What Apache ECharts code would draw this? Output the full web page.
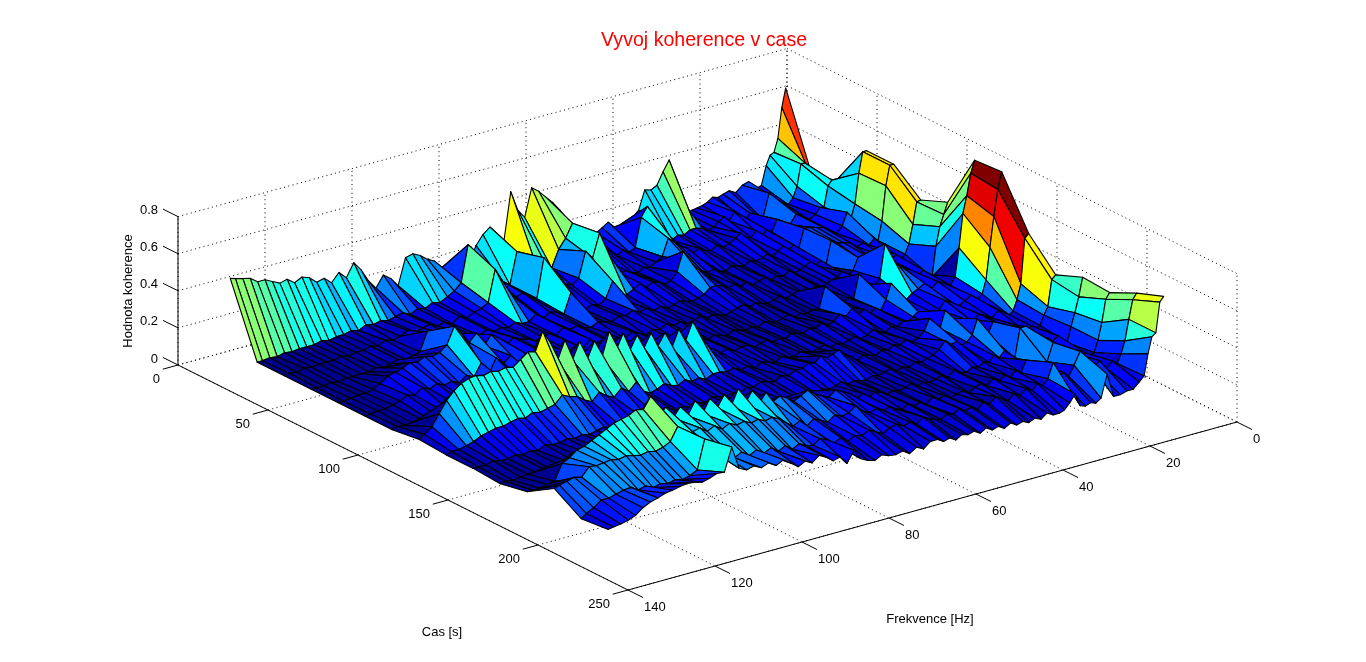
<!DOCTYPE html>
<html><head><meta charset="utf-8">
<style>html,body{margin:0;padding:0;background:#fff}#c{width:1366px;height:662px}</style>
<script src="https://cdn.jsdelivr.net/npm/echarts@6/dist/echarts.min.js"></script>
</head><body><div id="c"></div>
<script>
// axis ticks
const tTicks=[0,50,100,150,200,250];
const fTicks=[0,20,40,60,80,100,120,140];
const zTicks=[0,0.2,0.4,0.6,0.8];
const zTickLabels=['0','0.2','0.4','0.6','0.8'];
// grid of the surface
const times=[0,15,30,45,60,75,90,105,120,135,150,165,180,195,210];
const freqs=[0.3,1.2,2.1,3.0,3.9,4.8,5.9,7.3,8.8,10.3,11.8,13.3,14.7,15.9,17.1,18.3,19.5,20.7,21.9,23.1,24.3,
25.7,27.1,28.5,29.9,31.3,32.7,34.1,35.5,36.9,38.3,39.7,41.1,42.5,43.9,45.3,46.7,48.1,49.5,50.9,52.3,
53.9,55.5,57.1,58.7,60.3,61.9,63.5,65.1,66.7,68.3,69.9,71.5,73.1,74.7,76.3,77.9,79.5,81.1,82.7,84.3,
86.0,87.7,89.4,91.1,92.8,94.5,96.2,97.9,99.6,101.3,103.0,104.7,106.4,108.1,109.8,111.5,113.2,114.9,116.6,118.3,120.0,121.7,123.4,125.1,126.8,128];
// coherence per time row, from low to high frequency
const coh000=[.59,.49,.33,.26,.25,.20,.10,.09,.14,.13,.10,.12,.11,.10,.11,.09,.08,.075,.07,.06,.07,
.20,.375,.32,.257,.24,.25,.15,.12,.11,.10,.095,.13,.11,.09,.10,.10,.12,.18,.22,.27,
.32,.36,.40,.43,.28,.33,.44,.18,.12,.28,.25,.20,.12,.11,.11,.12,.13,.18,.20,.23,
.25,.24,.10,.15,.18,.12,.17,.24,.29,.22,.26,.215,.25,.24,.275,.29,.27,.30,.29,.31,.33,.33,.36,.37,.38,.39];
const coh015=[.18,.22,.27,.27,.155,.10,.07,.09,.12,.16,.03,.06,.08,.05,.09,.11,.07,.10,.08,.06,.05,
.07,.08,.08,.06,.07,.05,.08,.06,.18,.27,.22,.066,.05,.07,.05,.08,.10,.07,.09,.12,
.16,.29,.22,.17,.08,.12,.09,.13,.15,.22,.05,.08,.11,.15,.12,.20,.33,.135,.10,.08,
.06,.07,.05,.06,.04,.06,.05,.04,.05,.04,.05,.03,.04,.03,.03,.02,.03,.02,.02,.02,.015,.02,.01,.015,.01,.01];
const coh030=[.22,.24,.25,.224,.116,.12,.09,.07,.10,.12,.07,.09,.12,.06,.08,.05,.09,.06,.07,.10,.08,
.06,.05,.07,.05,.06,.08,.06,.10,.12,.15,.18,.09,.07,.05,.06,.04,.05,.07,.06,.09,
.20,.31,.185,.233,.097,.07,.09,.15,.20,.26,.05,.07,.10,.09,.12,.20,.27,.10,.08,.07,
.05,.07,.04,.06,.05,.07,.06,.05,.07,.05,.04,.05,.03,.04,.03,.03,.02,.03,.02,.02,.02,.015,.02,.01,.015,.01];
const coh045=[.47,.47,.36,.20,.13,.167,.10,.07,.09,.12,.13,.14,.145,.045,.07,.05,.08,.06,.04,.06,.05,
.04,.05,.03,.04,.05,.03,.04,.06,.05,.07,.09,.14,.20,.10,.06,.05,.07,.08,.06,.09,
.07,.05,.04,.144,.06,.036,.05,.03,.04,.144,.04,.06,.07,.05,.08,.05,.05,.067,.05,.06,
.05,.07,.05,.06,.08,.06,.10,.12,.13,.15,.05,.04,.03,.04,.03,.02,.03,.02,.02,.015,.02,.01,.015,.01,.01,.01];
const coh060=[.47,.47,.365,.18,.08,.10,.07,.09,.08,.11,.12,.13,.15,.02,.06,.04,.07,.05,.04,.03,.05,
.03,.04,.03,.05,.04,.03,.05,.04,.06,.05,.07,.08,.077,.05,.04,.03,.04,.05,.04,.03,
.05,.04,.06,.05,.07,.05,.06,.04,.05,.06,.04,.05,.07,.06,.08,.05,.07,.06,.05,.07,
.08,.10,.07,.12,.15,.10,.18,.14,.20,.25,.16,.13,.12,.13,.11,.12,.10,.09,.08,.05,.03,.02,.02,.015,.01,.01];
const coh075=[.35,.345,.23,.13,.08,.06,.09,.07,.10,.08,.11,.10,.133,.07,.05,.08,.06,.05,.04,.03,.04,
.03,.02,.04,.03,.02,.04,.03,.02,.03,.04,.03,.05,.04,.03,.02,.03,.04,.03,.05,.04,
.03,.05,.04,.06,.04,.05,.03,.05,.07,.04,.06,.05,.07,.06,.09,.05,.08,.06,.07,.10,
.07,.10,.08,.11,.07,.12,.09,.13,.05,.125,.06,.08,.05,.07,.06,.08,.06,.08,.05,.06,.04,.03,.02,.02,.015,.01];
const coh090=[.41,.35,.29,.19,.03,.05,.08,.06,.10,.12,.15,.20,.28,.10,.07,.09,.09,.155,.03,.04,.03,
.02,.03,.14,.027,.03,.02,.03,.02,.04,.03,.02,.03,.04,.02,.03,.02,.03,.04,.02,.03,
.04,.03,.05,.04,.03,.05,.04,.06,.03,.05,.04,.06,.03,.05,.04,.06,.05,.07,.04,.06,
.05,.07,.04,.06,.05,.07,.04,.06,.05,.08,.04,.05,.04,.05,.03,.04,.05,.03,.04,.03,.02,.03,.02,.015,.02,.01];
const coh105=[.71,.645,.53,.44,.26,.11,.07,.09,.11,.08,.12,.10,.086,.06,.08,.05,.17,.09,.04,.06,.04,
.07,.05,.094,.06,.08,.05,.04,.06,.04,.05,.03,.04,.05,.03,.04,.03,.05,.04,.03,.05,
.05,.04,.06,.05,.08,.10,.18,.26,.17,.24,.15,.24,.18,.26,.19,.27,.20,.30,.22,.33,
.20,.30,.21,.32,.23,.35,.25,.36,.43,.33,.34,.31,.28,.29,.28,.29,.28,.29,.285,.27,.24,.20,.14,.08,.05,.03];
const coh120=[.72,.63,.49,.33,.16,.09,.07,.10,.08,.06,.09,.11,.07,.05,.08,.06,.09,.07,.05,.06,.04,
.05,.03,.04,.06,.04,.03,.05,.04,.03,.04,.03,.05,.04,.03,.04,.05,.03,.04,.05,.03,
.04,.05,.03,.05,.04,.06,.05,.06,.06,.04,.06,.05,.07,.05,.06,.08,.06,.05,.07,.13,
.09,.12,.08,.10,.13,.09,.11,.14,.15,.17,.13,.12,.11,.12,.10,.11,.10,.09,.09,.08,.07,.05,.04,.03,.03,.02];
const coh135=[.46,.44,.20,.12,.065,.05,.07,.09,.06,.08,.10,.07,.09,.06,.08,.12,.17,.08,.10,.15,.09,
.06,.05,.07,.05,.06,.04,.05,.03,.04,.05,.03,.06,.08,.115,.10,.09,.11,.08,.09,.07,
.07,.05,.06,.04,.05,.06,.04,.05,.03,.04,.03,.04,.05,.03,.04,.03,.04,.03,.05,.03,
.04,.03,.05,.04,.03,.04,.03,.05,.04,.03,.04,.03,.04,.03,.03,.04,.02,.03,.02,.03,.02,.02,.03,.02,.02,.02];
const coh150=[.31,.29,.15,.11,.06,.05,.07,.05,.09,.07,.10,.12,.15,.09,.12,.19,.11,.08,.07,.10,.09,
.12,.08,.06,.05,.04,.05,.03,.04,.03,.05,.04,.03,.04,.025,.03,.04,.03,.05,.04,.03,
.04,.03,.05,.03,.04,.03,.05,.04,.03,.05,.04,.03,.05,.04,.06,.05,.04,.05,.06,.04,
.05,.04,.06,.05,.07,.05,.06,.08,.07,.05,.06,.05,.04,.05,.04,.03,.04,.03,.02,.03,.02,.02,.015,.01,.015,.01];
const coh165=[.37,.27,.19,.12,.04,.06,.09,.07,.10,.08,.13,.19,.19,.035,.05,.09,.06,.08,.05,.06,.04,
.05,.03,.04,.06,.03,.05,.04,.03,.04,.03,.05,.04,.03,.04,.03,.05,.06,.04,.07,.05,
.09,.11,.13,.10,.12,.14,.17,.15,.13,.16,.18,.16,.22,.17,.25,.19,.28,.20,.27,.21,
.27,.20,.28,.21,.27,.22,.29,.24,.37,.31,.32,.30,.29,.28,.26,.24,.22,.20,.19,.16,.14,.055,.05,.04,.04,.04];
const coh180=[.36,.33,.21,.12,.06,.04,.07,.05,.09,.06,.15,.175,.08,.06,.09,.07,.12,.06,.08,.05,.07,
.05,.07,.04,.06,.05,.03,.05,.04,.03,.05,.04,.06,.03,.05,.04,.06,.04,.05,.07,.06,
.08,.07,.09,.127,.10,.09,.11,.08,.10,.12,.09,.13,.11,.14,.17,.19,.18,.20,.19,.21,
.20,.22,.20,.23,.21,.24,.23,.22,.28,.21,.19,.18,.19,.18,.19,.20,.19,.20,.195,.19,.195,.15,.16,.15,.14,.13];
const coh195=[.43,.40,.30,.19,.125,.08,.10,.07,.12,.09,.15,.20,.134,.08,.11,.09,.18,.10,.07,.09,.06,
.08,.05,.07,.04,.06,.08,.05,.07,.04,.06,.05,.07,.05,.06,.04,.05,.06,.08,.05,.07,
.06,.08,.07,.05,.07,.09,.07,.08,.06,.09,.07,.10,.116,.09,.10,.12,.10,.13,.11,.14,
.12,.15,.13,.16,.14,.17,.19,.21,.286,.13,.11,.10,.11,.10,.11,.10,.12,.11,.135,.13,.12,.11,.11,.08,.06,.04];
const coh210=[.485,.46,.30,.285,.20,.085,.06,.03,.03,.02,.02,.15,.03,.01,.02,.01,.02,.09,.05,.02,.01,
.01,.03,.005,.02,.005,.02,.01,.03,.01,.03,.02,.04,.02,.04,.03,.04,.02,.04,.03,.05,
.05,.02,.04,.015,.04,.03,.035,.05,.03,.04,.06,.115,.055,.10,.09,.12,.14,.11,.13,.11,
.14,.17,.15,.175,.16,.18,.17,.19,.315,.19,.195,.18,.17,.18,.185,.18,.17,.165,.15,.14,.12,.09,.075,.065,.06,.055];
const coherence=[coh000,coh015,coh030,coh045,coh060,coh075,coh090,coh105,coh120,coh135,coh150,coh165,coh180,coh195,coh210];

// fixed MATLAB-like oblique view
const view={ox:178,oy:365,tx:1.8,ty:0.9,fx:4.35,fy:-1.2,zy:185.5,fMax:140,tMax:250,zMax:0.8,cMax:0.72};
function project(t,f,z){
  const d=view.fMax-f;
  return [view.ox+view.tx*t+view.fx*d, view.oy+view.ty*t+view.fy*d-view.zy*z];
}
function jet(v){
  const q=Math.min(63,Math.max(0,Math.floor(v*64)))/63;
  const c=x=>Math.round(255*Math.max(0,Math.min(1,1.5-Math.abs(4*q-x))));
  return 'rgb('+c(3)+','+c(2)+','+c(1)+')';
}

const cells=[];
for(let i=0;i<times.length-1;i++)for(let j=0;j<freqs.length-1;j++)cells.push([i,j]);

const segs=[]; // dotted grid: [t1,f1,z1,t2,f2,z2]
const T=view.tMax,F=view.fMax,Z=view.zMax;
tTicks.forEach(t=>{segs.push([t,F,0,t,0,0]);segs.push([t,0,0,t,0,Z]);});
fTicks.forEach(f=>{segs.push([0,f,0,T,f,0]);segs.push([0,f,0,0,f,Z]);});
zTicks.forEach(z=>{segs.push([0,F,z,0,0,z]);segs.push([0,0,z,T,0,z]);});

const axisSegs=[[0,F,0,0,F,Z],[0,F,0,T,F,0],[T,F,0,T,0,0]];
const tickOut=[];
tTicks.forEach(t=>tickOut.push([t,F,0,t,F+3.5,0]));
fTicks.forEach(f=>tickOut.push([T,f,0,T+8.3,f,0]));
zTicks.forEach(z=>tickOut.push([0,F,z,-8.3,F,z]));
axisSegs.push(...tickOut);

const labels=[];
tTicks.forEach(t=>{const p=project(t,F,0);labels.push([String(t),p[0]-18,p[1]+14,'right',0]);});
fTicks.forEach(f=>{const p=project(T,f,0);labels.push([String(f),p[0]+16,p[1]+17,'left',0]);});
zTicks.forEach((z,i)=>{const p=project(0,F,z);labels.push([zTickLabels[i],p[0]-20,p[1]-6,'right',0]);});
labels.push(['Cas [s]',442,632,'center',0]);
labels.push(['Frekvence [Hz]',930,619,'center',0]);
labels.push(['Hodnota koherence',128,291,'center',1]);

function lineItem(s,api,style){
  const a=api.coord(project(s[0],s[1],s[2]));
  const b=api.coord(project(s[3],s[4],s[5]));
  return {type:'line',silent:true,shape:{x1:a[0],y1:a[1],x2:b[0],y2:b[1]},style};
}
const chart=echarts.init(document.getElementById('c'),null,{renderer:'canvas'});
chart.setOption({
  animation:false,
  backgroundColor:'#fff',
  title:{text:'Vyvoj koherence v case',left:596,top:26,
    textStyle:{color:'#ff0000',fontFamily:'Liberation Sans',fontSize:19.6,fontWeight:'normal'}},
  grid:{left:0,right:0,top:0,bottom:0},
  xAxis:{type:'value',min:0,max:1366,show:false},
  yAxis:{type:'value',min:0,max:662,inverse:true,show:false},
  series:[
   {type:'custom',coordinateSystem:'cartesian2d',clip:false,silent:true,z:1,progressive:0,
    data:segs.map((s,i)=>[i]),
    renderItem:(p,api)=>lineItem(segs[api.value(0)],api,{stroke:'#000',lineWidth:1,lineDash:[1,3.4],fill:null})},
   {type:'custom',coordinateSystem:'cartesian2d',clip:false,silent:true,z:2,progressive:0,
    data:axisSegs.map((s,i)=>[i]),
    renderItem:(p,api)=>lineItem(axisSegs[api.value(0)],api,{stroke:'#000',lineWidth:1,fill:null})},
   {type:'custom',coordinateSystem:'cartesian2d',clip:false,silent:true,z:3,progressive:0,
    data:cells,
    renderItem:(p,api)=>{
      const i=api.value(0),j=api.value(1);
      const corners=[[i,j],[i+1,j],[i+1,j+1],[i,j+1]];
      const pts=corners.map(c=>api.coord(project(times[c[0]],freqs[c[1]],coherence[c[0]][c[1]])));
      return {type:'polygon',silent:true,shape:{points:pts},
        style:{fill:jet(coherence[i][j]/view.cMax),stroke:'#000',lineWidth:1.1,lineJoin:'round'}};
    }},
   {type:'custom',coordinateSystem:'cartesian2d',clip:false,silent:true,z:4,progressive:0,
    data:labels.map((s,i)=>[i]),
    renderItem:(p,api)=>{
      const l=labels[api.value(0)];
      const c=api.coord([l[1],l[2]]);
      return {type:'text',silent:true,x:c[0],y:c[1],rotation:l[4]?Math.PI/2:0,
        style:{text:l[0],x:0,y:0,align:l[3],verticalAlign:'middle',fill:'#000',
          font:'13px "Liberation Sans"'}};
    }}
  ]
});
</script></body></html>
